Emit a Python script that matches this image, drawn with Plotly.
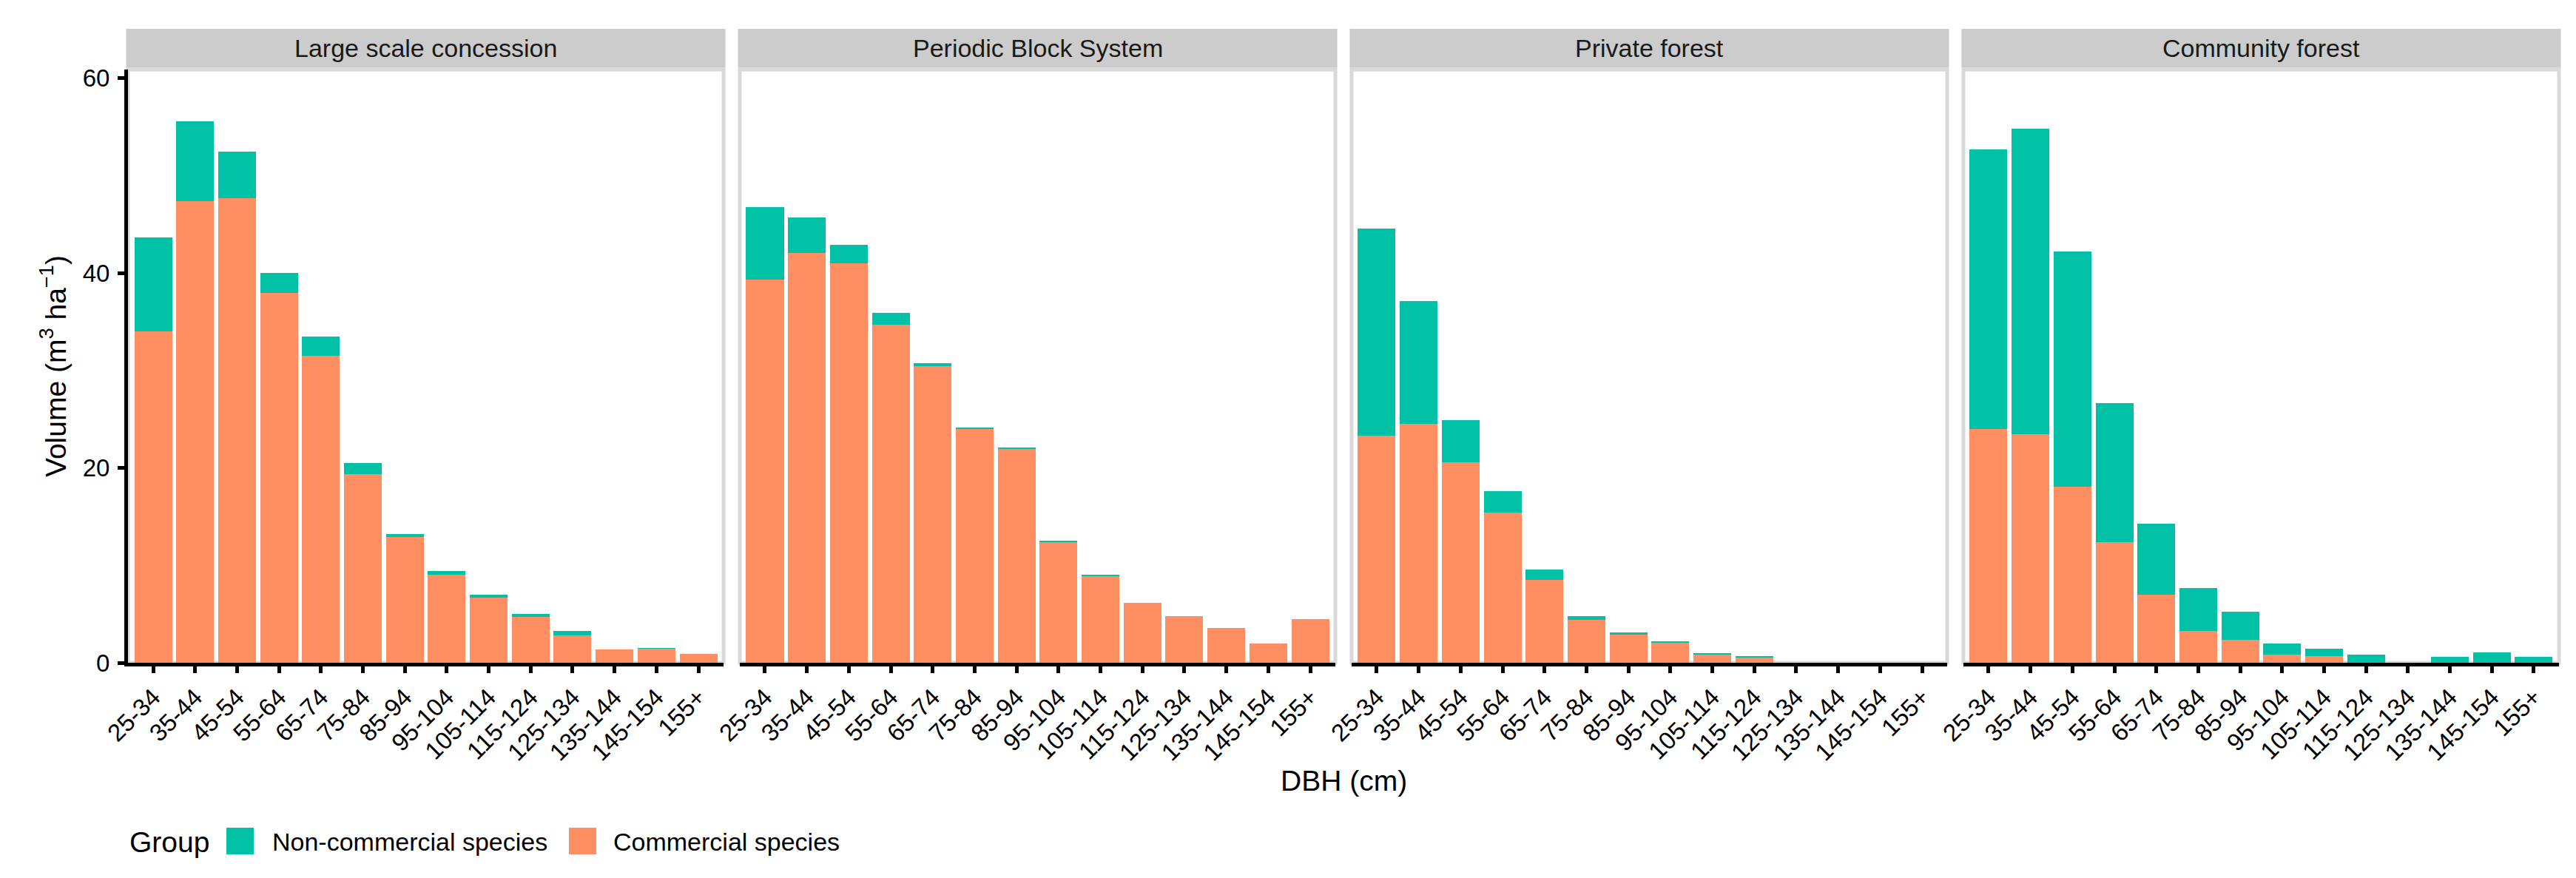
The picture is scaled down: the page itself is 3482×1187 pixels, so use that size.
import plotly.graph_objects as go
from plotly.subplots import make_subplots

dbh_classes = ["25-34", "35-44", "45-54", "55-64", "65-74", "75-84", "85-94",
               "95-104", "105-114", "115-124", "125-134", "135-144", "145-154", "155+"]

systems = ["Large scale concession", "Periodic Block System", "Private forest", "Community forest"]

# Commercial species volume (m3/ha) per DBH class
commercial_lsc = [34.0, 47.4, 47.7, 38.0, 31.5, 19.4, 12.9, 9.0, 6.7, 4.7, 2.8, 1.4, 1.45, 0.9]
commercial_pbs = [39.3, 42.1, 41.0, 34.7, 30.45, 23.98, 22.0, 12.4, 8.95, 6.15, 4.8, 3.6, 1.95, 4.5]
commercial_pf = [23.3, 24.5, 20.6, 15.4, 8.5, 4.4, 2.9, 2.1, 0.8, 0.6, 0.0, 0.0, 0.0, 0.0]
commercial_cf = [24.0, 23.5, 18.1, 12.4, 7.0, 3.3, 2.35, 0.85, 0.7, 0.0, 0.0, 0.0, 0.0, 0.0]

# Non-commercial species volume (m3/ha) per DBH class
noncommercial_lsc = [9.7, 8.2, 4.8, 2.0, 2.0, 1.1, 0.3, 0.4, 0.3, 0.35, 0.5, 0.0, 0.05, 0.0]
noncommercial_pbs = [7.5, 3.6, 1.9, 1.2, 0.32, 0.16, 0.05, 0.12, 0.05, 0.0, 0.0, 0.0, 0.0, 0.0]
noncommercial_pf = [21.3, 12.6, 4.3, 2.2, 1.05, 0.4, 0.25, 0.12, 0.2, 0.02, 0.0, 0.0, 0.0, 0.0]
noncommercial_cf = [28.7, 31.35, 24.1, 14.25, 7.3, 4.4, 2.9, 1.1, 0.75, 0.85, 0.0, 0.6, 1.05, 0.6]

commercial = [commercial_lsc, commercial_pbs, commercial_pf, commercial_cf]
noncommercial = [noncommercial_lsc, noncommercial_pbs, noncommercial_pf, noncommercial_cf]

group_labels = ["Non-commercial species", "Commercial species"]
y_ticks = [0, 20, 40, 60]

COL_NON = "#00C1A6"
COL_COM = "#FF8F63"
STRIP = "#CCCCCC"
BORDER = "#D9D9D9"
FONT = "Liberation Sans, Arial, sans-serif"

W, H = 3482, 1187
ML, MR, MT, MB = 165, 31, 86, 299
PW = W - ML - MR
PH = H - MT - MB
GAP = 21.9

fig = make_subplots(rows=1, cols=4, shared_yaxes=True, horizontal_spacing=GAP / PW)

for i in range(4):
    fig.add_trace(go.Bar(x=dbh_classes, y=commercial[i], name=group_labels[1],
                         marker=dict(color=COL_COM, line=dict(width=0)), width=0.9,
                         showlegend=False), row=1, col=i + 1)
    fig.add_trace(go.Bar(x=dbh_classes, y=noncommercial[i], name=group_labels[0],
                         marker=dict(color=COL_NON, line=dict(width=0)), width=0.9,
                         showlegend=False), row=1, col=i + 1)

fig.update_layout(barmode="stack", width=W, height=H,
                  margin=dict(l=ML, r=MR, t=MT, b=MB),
                  plot_bgcolor="white", paper_bgcolor="white",
                  font=dict(family=FONT, color="black"))

for i in range(4):
    fig.update_xaxes(type="category", categoryorder="array", categoryarray=dbh_classes,
                     range=[-0.6, 13.6], tickangle=-45, ticks="outside", ticklen=9,
                     tickwidth=5, tickcolor="black", showline=True, linecolor="black",
                     linewidth=5, showgrid=False, zeroline=False,
                     tickfont=dict(size=33, color="black", family=FONT),
                     row=1, col=i + 1)
    if i == 0:
        fig.update_yaxes(range=[0, 60.9], tickvals=y_ticks, ticks="outside", ticklen=9,
                         tickwidth=5, tickcolor="black", showline=True, linecolor="black",
                         linewidth=5, showgrid=False, zeroline=False,
                         tickfont=dict(size=33, color="black", family=FONT),
                         ticklabelstandoff=4,
                         title=dict(text="Volume (m<sup>3</sup> ha<sup>\u22121</sup>)",
                                    font=dict(size=39, color="black", family=FONT),
                                    standoff=12),
                         row=1, col=1)
    else:
        fig.update_yaxes(range=[0, 60.9], showticklabels=False, ticks="", showline=False,
                         showgrid=False, zeroline=False, row=1, col=i + 1)

shapes = []
annotations = []
dx = 2.5 / PW
for i in range(4):
    ax = fig.layout["xaxis" if i == 0 else f"xaxis{i + 1}"]
    d0, d1 = ax.domain
    # panel border
    shapes.append(dict(type="rect", xref="paper", yref="paper", x0=d0, x1=d1, y0=0, y1=1,
                       line=dict(color=BORDER, width=5), fillcolor="rgba(0,0,0,0)",
                       layer="below"))
    # strip
    shapes.append(dict(type="rect", xref="paper", yref="paper", x0=d0 - dx, x1=d1 + dx,
                       y0=1 + 2.5 / PH, y1=1 + 55.0 / PH, line=dict(width=0),
                       fillcolor=STRIP, layer="above"))
    annotations.append(dict(text=systems[i], xref="paper", yref="paper",
                            x=(d0 + d1) / 2, y=1 + 28.75 / PH, xanchor="center",
                            yanchor="middle", showarrow=False,
                            font=dict(size=34, color="#1A1A1A", family=FONT)))

# x-axis title
annotations.append(dict(text="DBH (cm)", xref="paper", yref="paper", x=0.5,
                        y=(MT + PH - 1047) / PH, xanchor="center", yanchor="middle",
                        showarrow=False, font=dict(size=39, color="black", family=FONT)))


def px_x(p):
    return (p - ML) / PW


def px_y(p):
    return (MT + PH - p) / PH


# legend
annotations.append(dict(text="Group", xref="paper", yref="paper", x=px_x(165), y=px_y(1130),
                        xanchor="left", yanchor="middle", showarrow=False,
                        font=dict(size=39, color="black", family=FONT)))
legend_keys = [(298, 335, COL_NON, 358, group_labels[0]), (761, 798, COL_COM, 819, group_labels[1])]
for k0, k1, col, tx, lab in legend_keys:
    shapes.append(dict(type="rect", xref="paper", yref="paper", x0=px_x(k0), x1=px_x(k1),
                       y0=px_y(1147), y1=px_y(1111), line=dict(width=0), fillcolor=col))
    annotations.append(dict(text=lab, xref="paper", yref="paper", x=px_x(tx), y=px_y(1130),
                            xanchor="left", yanchor="middle", showarrow=False,
                            font=dict(size=34, color="black", family=FONT)))

fig.update_layout(shapes=shapes, annotations=annotations)
fig.write_html("out.html")
